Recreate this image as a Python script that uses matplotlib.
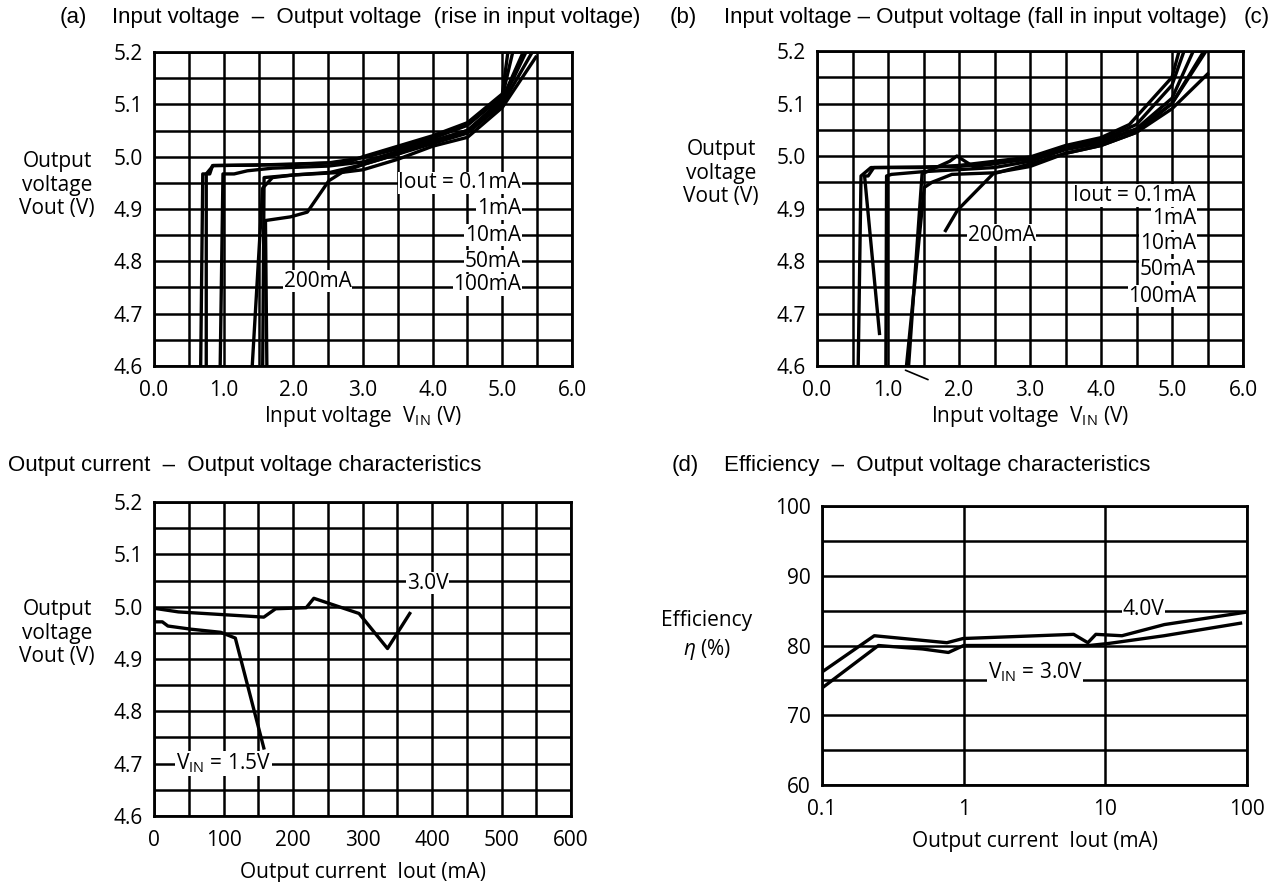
"""Regulator characteristics: Vout vs VIN (rise / fall), Vout vs Iout, efficiency."""
import matplotlib
matplotlib.use("Agg")
import matplotlib.pyplot as plt
import numpy as np

plt.rcParams["font.family"] = ["Open Sans", "DejaVu Sans"]
plt.rcParams["mathtext.fontset"] = "custom"
plt.rcParams["mathtext.rm"] = "Open Sans"
plt.rcParams["mathtext.it"] = "Open Sans:italic"

TITLE_FONT = ["Liberation Sans", "DejaVu Sans"]

# ── (a) rise in input voltage: (VIN, Vout) per load current ─────────────────
A_LABELS = ["0.1mA", "1mA", "10mA", "50mA", "100mA", "200mA"]
A_X = [
    [0.67, 0.70, 0.80, 0.84, 2.0, 2.8, 3.0, 3.5, 4.0, 4.5, 5.0, 5.08],
    [0.75, 0.75, 0.85, 1.5, 2.5, 3.0, 3.5, 4.0, 4.5, 5.0, 5.15],
    [0.95, 0.99, 1.15, 1.34, 1.7, 2.5, 3.0, 3.5, 4.0, 4.5, 5.0, 5.34],
    [1.56, 1.58, 2.0, 2.53, 3.0, 3.5, 4.0, 4.5, 5.0, 5.43],
    [1.41, 1.56, 1.7, 2.0, 2.7, 3.0, 3.5, 4.0, 4.5, 5.0, 5.48],
    [1.62, 1.60, 1.96, 2.2, 2.51, 2.7, 3.0, 3.5, 4.0, 4.5, 5.0, 5.3],
]
A_Y = [
    [4.60, 4.967, 4.967, 4.983, 4.985, 4.99, 5.0, 5.02, 5.04, 5.065, 5.12, 5.2],
    [4.60, 4.967, 4.983, 4.984, 4.988, 4.998, 5.015, 5.035, 5.06, 5.115, 5.2],
    [4.60, 4.967, 4.967, 4.973, 4.978, 4.982, 4.99, 5.01, 5.03, 5.05, 5.105, 5.2],
    [4.60, 4.96, 4.965, 4.97, 4.985, 5.005, 5.025, 5.045, 5.1, 5.2],
    [4.60, 4.94, 4.96, 4.965, 4.97, 4.975, 4.995, 5.02, 5.037, 5.094, 5.19],
    [4.60, 4.878, 4.885, 4.894, 4.954, 4.97, 4.985, 5.005, 5.03, 5.05, 5.11, 5.2],
]

# ── (b) fall in input voltage ────────────────────────────────────────────────
B_X = [
    [0.58, 0.62, 0.76, 1.48, 2.0, 3.0, 3.5, 4.0, 4.4, 5.0, 5.1],
    [0.88, 0.67, 0.72, 0.80, 2.0, 3.0, 3.5, 4.0, 4.5, 5.0, 5.17],
    [0.97, 0.98, 1.05, 1.48, 2.5, 3.0, 3.5, 4.0, 4.5, 5.0, 5.3],
    [1.29, 1.48, 1.87, 1.97, 2.2, 2.5, 3.0, 3.5, 4.0, 4.5, 5.0, 5.45],
    [1.26, 1.51, 1.62, 1.9, 2.5, 3.0, 3.5, 4.0, 4.5, 5.0, 5.5],
    [1.81, 1.98, 2.48, 3.0, 3.5, 4.0, 4.5, 5.0, 5.48],
]
B_Y = [
    [4.60, 4.962, 4.978, 4.978, 4.982, 4.998, 5.02, 5.035, 5.06, 5.15, 5.2],
    [4.662, 4.962, 4.962, 4.978, 4.98, 4.995, 5.018, 5.03, 5.06, 5.135, 5.2],
    [4.60, 4.962, 4.965, 4.97, 4.978, 4.99, 5.012, 5.025, 5.052, 5.11, 5.2],
    [4.60, 4.966, 4.99, 5.0, 4.98, 4.985, 4.995, 5.015, 5.03, 5.05, 5.1, 5.2],
    [4.60, 4.94, 4.95, 4.965, 4.968, 4.98, 5.005, 5.02, 5.045, 5.09, 5.156],
    [4.858, 4.897, 4.966, 4.985, 5.005, 5.02, 5.045, 5.1, 5.2],
]

# ── (c) output current vs output voltage ────────────────────────────────────
C_IOUT_30 = [0, 35, 158, 175, 219, 230, 295, 336, 368]
C_VOUT_30 = [4.997, 4.99, 4.98, 4.996, 4.998, 5.016, 4.987, 4.92, 4.987]
C_IOUT_15 = [0, 12, 20, 53, 96, 117, 158]
C_VOUT_15 = [4.971, 4.971, 4.963, 4.957, 4.951, 4.94, 4.73]

# ── (d) efficiency vs output current ────────────────────────────────────────
D_IOUT_40 = [0.1, 0.234, 0.761, 0.99, 5.98, 7.53, 8.57, 13.1, 26.1, 100]
D_EFF_40 = [76.2, 81.4, 80.4, 81.0, 81.6, 80.4, 81.6, 81.4, 83.0, 84.8]
D_IOUT_30 = [0.1, 0.25, 0.514, 0.78, 1.0, 7.7, 10.6, 26, 90]
D_EFF_30 = [73.9, 80.0, 79.5, 79.0, 80.0, 80.0, 80.3, 81.4, 83.2]

W, H = 1271, 882
FS = 15
LW = 2.4
GRID_LW = 1.8


def px_axes(fig, left, top, right, bottom):
    return fig.add_axes([left / W, 1 - bottom / H, (right - left) / W, (bottom - top) / H])


def style_axes(ax):
    ax.grid(True, which="both", color="black", lw=GRID_LW)
    ax.set_axisbelow(True)
    ax.tick_params(which="both", length=0, labelsize=FS)
    ax.tick_params(axis="x", pad=10)
    ax.tick_params(axis="y", pad=8)
    for s in ax.spines.values():
        s.set_linewidth(2.0)


def vout_axes(ax):
    ax.set_ylim(4.6, 5.2)
    ax.set_yticks(np.arange(4.6, 5.21, 0.1))
    ax.set_yticklabels([f"{v:.1f}" for v in np.arange(4.6, 5.21, 0.1)])
    ax.set_yticks(np.arange(4.65, 5.2, 0.1), minor=True)


def vin_axes(ax):
    ax.set_xlim(0, 6)
    ax.set_xticks(np.arange(0, 6.1, 1))
    ax.set_xticklabels([f"{v:.1f}" for v in np.arange(0, 6.1, 1)])
    ax.set_xticks(np.arange(0.5, 6, 1), minor=True)


def lbl(ax, x, y, s, ha="center"):
    ax.text(x, y, s, ha=ha, va="center", fontsize=FS, zorder=6,
            bbox=dict(facecolor="white", edgecolor="none", pad=0.5))


fig = plt.figure(figsize=(W / 100, H / 100), dpi=100)

# ── (a) ──
ax = px_axes(fig, 154, 52, 572, 366)
for xs, ys in zip(A_X, A_Y):
    ax.plot(xs, ys, color="black", lw=LW, zorder=4)
vin_axes(ax)
vout_axes(ax)
style_axes(ax)
lbl(ax, 5.27, 4.95, "Iout = 0.1mA", ha="right")
lbl(ax, 5.27, 4.90, "1mA", ha="right")
lbl(ax, 5.27, 4.85, "10mA", ha="right")
lbl(ax, 5.27, 4.80, "50mA", ha="right")
lbl(ax, 5.27, 4.755, "100mA", ha="right")
lbl(ax, 2.35, 4.762, "200mA")
ax.set_xlabel("Input voltage  V$_{\\mathrm{IN}}$ (V)", fontsize=FS, labelpad=2)
fig.text(57 / W, 1 - 185 / H, "Output\nvoltage\nVout (V)", ha="center", va="center",
         fontsize=FS, linespacing=1.15)

# ── (b) ──
ax = px_axes(fig, 817, 51, 1243, 366)
for xs, ys in zip(B_X, B_Y):
    ax.plot(xs, ys, color="black", lw=LW, zorder=4)
vin_axes(ax)
vout_axes(ax)
style_axes(ax)
lbl(ax, 5.34, 4.925, "Iout = 0.1mA", ha="right")
lbl(ax, 5.34, 4.88, "1mA", ha="right")
lbl(ax, 5.34, 4.834, "10mA", ha="right")
lbl(ax, 5.34, 4.783, "50mA", ha="right")
lbl(ax, 5.34, 4.733, "100mA", ha="right")
lbl(ax, 2.6, 4.849, "200mA")
ax.annotate("", xy=(1.6, 4.572), xytext=(1.21, 4.594), annotation_clip=False,
            arrowprops=dict(arrowstyle="-", color="black", lw=1.2))
ax.set_xlabel("Input voltage  V$_{\\mathrm{IN}}$ (V)", fontsize=FS, labelpad=2)
fig.text(721 / W, 1 - 173 / H, "Output\nvoltage\nVout (V)", ha="center", va="center",
         fontsize=FS, linespacing=1.15)

# ── (c) ──
ax = px_axes(fig, 154, 502, 571, 816)
ax.plot(C_IOUT_30, C_VOUT_30, color="black", lw=LW, zorder=4)
ax.plot(C_IOUT_15, C_VOUT_15, color="black", lw=LW, zorder=4)
ax.set_xlim(0, 600)
ax.set_xticks(np.arange(0, 601, 100))
ax.set_xticks(np.arange(50, 600, 100), minor=True)
vout_axes(ax)
style_axes(ax)
lbl(ax, 394, 5.045, "3.0V")
lbl(ax, 100, 4.70, "V$_{\\mathrm{IN}}$ = 1.5V")
ax.set_xlabel("Output current  Iout (mA)", fontsize=FS, labelpad=8)
fig.text(57 / W, 1 - 633 / H, "Output\nvoltage\nVout (V)", ha="center", va="center",
         fontsize=FS, linespacing=1.15)

# ── (d) ──
ax = px_axes(fig, 822, 506, 1247, 785)
ax.plot(D_IOUT_40, D_EFF_40, color="black", lw=LW, zorder=4)
ax.plot(D_IOUT_30, D_EFF_30, color="black", lw=LW, zorder=4)
ax.set_xscale("log")
ax.set_xlim(0.1, 100)
ax.set_xticks([0.1, 1, 10, 100])
ax.set_xticklabels(["0.1", "1", "10", "100"])
ax.xaxis.set_minor_locator(matplotlib.ticker.NullLocator())
ax.set_ylim(60, 100)
ax.set_yticks(np.arange(60, 101, 10))
ax.set_yticks(np.arange(65, 100, 10), minor=True)
style_axes(ax)
lbl(ax, 18.6, 85.2, "4.0V")
lbl(ax, 3.2, 76.2, "V$_{\\mathrm{IN}}$ = 3.0V")
ax.set_xlabel("Output current  Iout (mA)", fontsize=FS, labelpad=8)
fig.text(707 / W, 1 - 636 / H, "Efficiency\n$\\eta$ (%)", ha="center", va="center",
         fontsize=FS, linespacing=1.3)

# ── titles ──
TFS = 16
for x, y, s in [
    (60, 18, "(a)"),
    (112, 18, "Input voltage  –  Output voltage  (rise in input voltage)"),
    (670, 17, "(b)"),
    (724, 17, "Input voltage – Output voltage (fall in input voltage)"),
    (1244, 17, "(c)"),
    (8, 466, "Output current  –  Output voltage characteristics"),
    (672, 465, "(d)"),
    (724, 465, "Efficiency  –  Output voltage characteristics"),
]:
    fig.text(x / W, 1 - y / H, s, ha="left", va="center", fontsize=TFS, family=TITLE_FONT)

fig.savefig("out.png", dpi=100)
